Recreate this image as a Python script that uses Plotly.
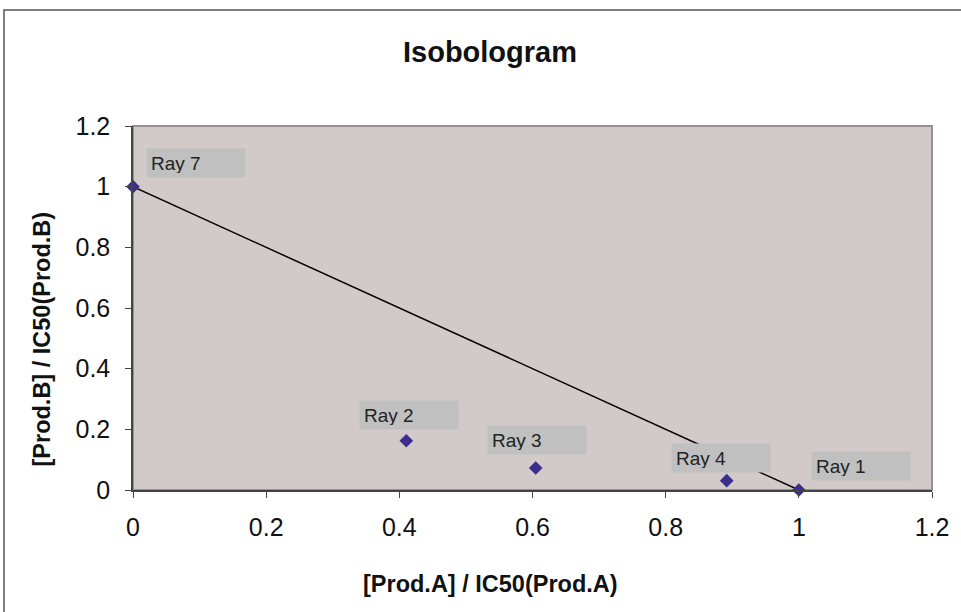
import plotly.graph_objects as go

labels = ["Ray 7", "Ray 2", "Ray 3", "Ray 4", "Ray 1"]
x_vals = [0.0, 0.4105, 0.6048, 0.8917, 1.0]
y_vals = [1.0, 0.1625, 0.0725, 0.0307, 0.0]
line_x = [0.0, 1.0]
line_y = [1.0, 0.0]
label_shift = {"Ray 7": (63, 24), "Ray 2": (3, 26), "Ray 3": (1, 28),
               "Ray 4": (-6, 23), "Ray 1": (62, 24)}

FONT = "Liberation Sans, Arial, sans-serif"

fig = go.Figure()
fig.add_trace(go.Scatter(x=line_x, y=line_y, mode="lines",
                         line=dict(color="black", width=1.5),
                         hoverinfo="skip", showlegend=False, cliponaxis=False))
fig.add_trace(go.Scatter(x=x_vals, y=y_vals, mode="markers",
                         marker=dict(symbol="diamond", size=10.5, color="#3C2E8C"),
                         showlegend=False, cliponaxis=False))

for lab, xv, yv in zip(labels, x_vals, y_vals):
    dx, dy = label_shift[lab]
    fig.add_annotation(x=xv, y=yv, xref="x", yref="y", text=lab, showarrow=False,
                       xshift=dx, yshift=dy, width=90, height=20, align="left",
                       bgcolor="#C0C0C0", borderpad=4,
                       font=dict(family=FONT, size=19, color="#222222"))

# axis titles
fig.add_annotation(x=(490 - 133) / 799, y=(490 - 584) / 364, xref="paper", yref="paper",
                   text="<b>[Prod.A] / IC50(Prod.A)</b>", showarrow=False,
                   xanchor="center", yanchor="middle",
                   font=dict(family=FONT, size=23.5, color="#111111"))
fig.add_annotation(x=(41.5 - 133) / 799, y=(490 - 339) / 364, xref="paper", yref="paper",
                   text="<b>[Prod.B] / IC50(Prod.B)</b>", showarrow=False, textangle=-90,
                   xanchor="center", yanchor="middle",
                   font=dict(family=FONT, size=23.5, color="#111111"))

# outer chart border
fig.add_shape(type="rect", xref="paper", yref="paper",
              x0=(4 - 133) / 799, x1=1.1, y0=-0.5, y1=(490 - 10) / 364,
              line=dict(color="#555555", width=1.5), layer="above")
# plot area border (top/right)
fig.add_shape(type="rect", xref="paper", yref="paper", x0=0, x1=1, y0=0, y1=1,
              line=dict(color="#9A9090", width=2), layer="below")

fig.update_layout(
    width=961, height=612,
    margin=dict(l=133, r=29, t=126, b=122),
    paper_bgcolor="white", plot_bgcolor="#D2CAC8",
    font=dict(family=FONT, color="#111111"),
    title=dict(text="<b>Isobologram</b>", x=490/961, xanchor="center",
               y=1 - 52/612, yanchor="middle",
               font=dict(family=FONT, size=29, color="#111111")),
    showlegend=False,
)
fig.update_xaxes(range=[0, 1.2], dtick=0.2, tick0=0, showgrid=False, zeroline=False,
                 showline=True, linecolor="#444444", linewidth=1.5,
                 ticks="outside", ticklen=6, tickcolor="#444444",
                 ticklabelstandoff=8,
                 tickfont=dict(family=FONT, size=25, color="#111111"))
fig.update_yaxes(range=[0, 1.2], dtick=0.2, tick0=0, showgrid=False, zeroline=False,
                 showline=True, linecolor="#444444", linewidth=1.5,
                 ticks="outside", ticklen=6, tickcolor="#444444",
                 ticklabelstandoff=10,
                 tickfont=dict(family=FONT, size=25, color="#111111"))

fig.write_html("out.html")
